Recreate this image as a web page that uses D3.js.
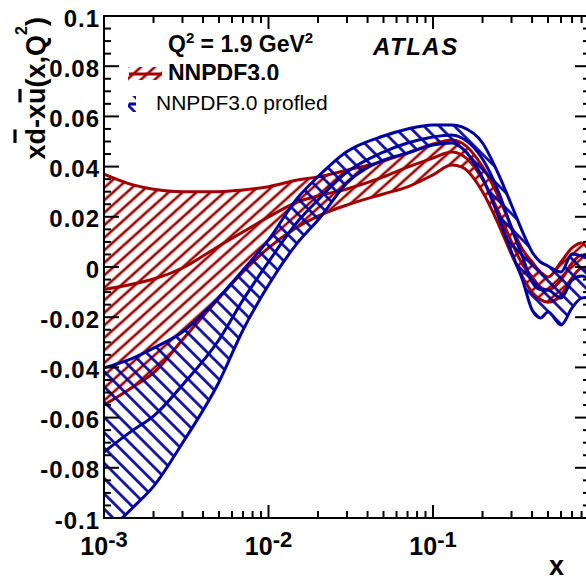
<!DOCTYPE html>
<html>
<head>
<meta charset="utf-8">
<script src="https://cdn.jsdelivr.net/npm/d3@7"></script>
<style>
  html, body { margin: 0; padding: 0; background: #fff; }
  svg { display: block; }
  text { font-family: "Liberation Sans", Arial, Helvetica, sans-serif; }
</style>
</head>
<body>
<svg id="chart" width="586" height="581"></svg>
<script>
// ---------------- data ----------------
const xValues = [0.001, 0.0015, 0.002, 0.003, 0.005, 0.007, 0.01, 0.015, 0.02, 0.03, 0.05, 0.07, 0.1, 0.13, 0.15, 0.2, 0.25, 0.3, 0.35, 0.4, 0.45, 0.5, 0.6, 0.7, 0.8, 0.9];

const redUpper   = [0.037, 0.0327, 0.031, 0.030, 0.030, 0.0307, 0.032, 0.0347, 0.0359, 0.0386, 0.0422, 0.0454, 0.049, 0.0506, 0.0494, 0.040, 0.028, 0.016, 0.007, 0.002, -0.002, -0.004, 0.002, 0.0076, 0.0096, 0.006];
const redCentral = [-0.009, -0.0068, -0.0048, -0.0004, 0.0084, 0.014, 0.0199, 0.0259, 0.0283, 0.0311, 0.0359, 0.0398, 0.0434, 0.0458, 0.0446, 0.035, 0.022, 0.010, 0.001, -0.004, -0.008, -0.0092, -0.0052, 0.0016, 0.0048, 0.002];
const redLower   = [-0.055, -0.0478, -0.0422, -0.029, -0.0124, -0.002, 0.0076, 0.0159, 0.0203, 0.0247, 0.0291, 0.0319, 0.0367, 0.0406, 0.0398, 0.030, 0.017, 0.005, -0.004, -0.010, -0.013, -0.014, -0.0112, -0.0044, -0.0004, -0.003];

const blueUpper   = [-0.0402, -0.0363, -0.0323, -0.0259, -0.012, -0.0012, 0.0108, 0.0275, 0.036, 0.046, 0.0522, 0.055, 0.0566, 0.0566, 0.0558, 0.0494, 0.037, 0.0247, 0.014, 0.006, 0.002, 0.0004, -0.002, 0.0052, 0.0044, 0.003];
const blueCentral = [-0.0737, -0.065, -0.0594, -0.047, -0.029, -0.0131, 0.002, 0.018, 0.0267, 0.0378, 0.0458, 0.0494, 0.0518, 0.0526, 0.0514, 0.043, 0.030, 0.0155, 0.004, -0.006, -0.009, -0.0092, -0.0124, -0.0052, -0.0036, -0.005];
const blueLower   = [-0.107, -0.0958, -0.0874, -0.0701, -0.0458, -0.0251, -0.0072, 0.0096, 0.0187, 0.0335, 0.0426, 0.0454, 0.0486, 0.0494, 0.0474, 0.0355, 0.020, 0.006, -0.0052, -0.0171, -0.0203, -0.0179, -0.0231, -0.0163, -0.0124, -0.012];

const yTickValues = [-0.1, -0.08, -0.06, -0.04, -0.02, 0, 0.02, 0.04, 0.06, 0.08, 0.1];
const yTickLabels = ["-0.1", "-0.08", "-0.06", "-0.04", "-0.02", "0", "0.02", "0.04", "0.06", "0.08", "0.1"];
const xTickValues = [0.001, 0.01, 0.1];
const xTickExponents = ["-3", "-2", "-1"];

const seriesNames = ["NNPDF3.0", "NNPDF3.0 profled"];
const energyLabel = "1.9 GeV";

// ---------------- layout ----------------
const L = 104, R = 590, T = 16, B = 518;
const RED = "#a00000", BLUE = "#0000a0";

const svg = d3.select("#chart");
const x = d3.scaleLog().domain([0.001, 0.9]).range([L, R]);
const y = d3.scaleLinear().domain([-0.1, 0.1]).range([B, T]);

const defs = svg.append("defs");
defs.append("clipPath").attr("id", "plotClip")
  .append("rect").attr("x", L).attr("y", T).attr("width", R - L).attr("height", B - T);

function hatch(id, color, angle, spacing) {
  const p = defs.append("pattern").attr("id", id)
    .attr("patternUnits", "userSpaceOnUse")
    .attr("width", 20).attr("height", spacing)
    .attr("patternTransform", `rotate(${angle})`);
  p.append("line").attr("x1", -2).attr("x2", 22)
    .attr("y1", spacing / 2).attr("y2", spacing / 2)
    .attr("stroke", color).attr("stroke-width", 2.6);
}
hatch("hatchRed", RED, -42, 9.3);
hatch("hatchBlue", BLUE, 45, 10.8);

const pts = arr => arr.map((v, i) => ({ x: xValues[i], y: v }));
const band = (lo, hi) => xValues.map((xv, i) => ({ x: xv, lo: lo[i], hi: hi[i] }));

const line = d3.line().x(d => x(d.x)).y(d => y(d.y)).curve(d3.curveMonotoneX);
const area = d3.area().x(d => x(d.x)).y0(d => y(d.lo)).y1(d => y(d.hi)).curve(d3.curveMonotoneX);

const plot = svg.append("g").attr("clip-path", "url(#plotClip)");

function drawBand(lo, mid, hi, color, pat) {
  plot.append("path").attr("d", area(band(lo, hi))).attr("fill", `url(#${pat})`).attr("stroke", "none");
  [hi, mid, lo].forEach(s => {
    plot.append("path").attr("d", line(pts(s)))
      .attr("fill", "none").attr("stroke", color).attr("stroke-width", 3)
      .attr("stroke-linejoin", "round");
  });
}
drawBand(redLower, redCentral, redUpper, RED, "hatchRed");
drawBand(blueLower, blueCentral, blueUpper, BLUE, "hatchBlue");

// ---------------- frame & ticks ----------------
const axes = svg.append("g").attr("stroke", "#000").attr("stroke-width", 2);
axes.append("rect").attr("x", L).attr("y", T).attr("width", R - L).attr("height", B - T).attr("fill", "none");

const yMinor = d3.range(-20, 21).map(k => k * 0.005);
yMinor.forEach(v => {
  const major = Math.abs(Math.round(v * 1000) % 20) === 0;
  const len = major ? 15 : 7;
  const py = y(v);
  axes.append("line").attr("x1", L).attr("x2", L + len).attr("y1", py).attr("y2", py);
  axes.append("line").attr("x1", R).attr("x2", R - len).attr("y1", py).attr("y2", py);
});

const xMinor = [];
[0.001, 0.01, 0.1].forEach(dec => { for (let k = 1; k <= 9; k++) { const v = dec * k; if (v <= 0.9 + 1e-9) xMinor.push({ v, major: k === 1 }); } });
xMinor.forEach(t => {
  const len = t.major ? 13 : 7;
  const px = x(t.v);
  axes.append("line").attr("x1", px).attr("x2", px).attr("y1", B).attr("y2", B - len);
  axes.append("line").attr("x1", px).attr("x2", px).attr("y1", T).attr("y2", T + len);
});

svg.append("g").selectAll("text").data(yTickValues).join("text")
  .attr("x", 100).attr("y", d => y(d) + 10.5)
  .attr("text-anchor", "end")
  .attr("font-size", 24).attr("font-weight", "bold").attr("letter-spacing", 1)
  .text((d, i) => yTickLabels[i]);

const xl = svg.append("g").selectAll("text").data(xTickValues).join("text")
  .attr("x", d => x(d)).attr("y", 555)
  .attr("text-anchor", "middle").attr("font-weight", "bold");
xl.append("tspan").attr("font-size", 25).text("10");
xl.append("tspan").attr("font-size", 22).attr("dy", -8).text((d, i) => xTickExponents[i]);

svg.append("text").attr("x", 564).attr("y", 575).attr("text-anchor", "end")
  .attr("font-size", 27).attr("font-weight", "bold").text("x");

const yt = svg.append("g").attr("transform", "translate(45,17) rotate(-90)");
const ytText = yt.append("text").attr("x", 0).attr("y", 0).attr("text-anchor", "end")
  .attr("font-size", 27).attr("font-weight", "bold");
ytText.append("tspan").text("xd-xu(x,Q");
ytText.append("tspan").attr("font-size", 16).attr("dy", -18).text("2");
ytText.append("tspan").attr("dy", 18).text(")");
[[1, -30], [4, -25]].forEach(([idx, off]) => {
  const e = ytText.node().getExtentOfChar(idx);
  yt.append("line").attr("x1", e.x + 1.5).attr("x2", e.x + e.width - 1.5)
    .attr("y1", off).attr("y2", off).attr("stroke", "#000").attr("stroke-width", 3.2);
});

// ---------------- legend ----------------
const leg = svg.append("g");
leg.append("rect").attr("x", 128).attr("y", 67).attr("width", 34).attr("height", 14).attr("fill", "url(#hatchRed)");
leg.append("line").attr("x1", 129).attr("x2", 162).attr("y1", 74).attr("y2", 74).attr("stroke", RED).attr("stroke-width", 3);
leg.append("rect").attr("x", 128).attr("y", 96).attr("width", 34).attr("height", 16).attr("fill", "url(#hatchBlue)");
leg.append("line").attr("x1", 129).attr("x2", 162).attr("y1", 104).attr("y2", 104).attr("stroke", BLUE).attr("stroke-width", 3);
leg.append("text").attr("x", 168).attr("y", 81).attr("font-size", 23).attr("font-weight", "bold").text(seriesNames[0]);
leg.append("rect").attr("x", 136).attr("y", 80).attr("width", 210).attr("height", 38).attr("fill", "#fff");
leg.append("text").attr("x", 156).attr("y", 110).attr("font-size", 21).text(seriesNames[1]);

const q = leg.append("text").attr("x", 168).attr("y", 52).attr("font-size", 23).attr("font-weight", "bold");
q.append("tspan").text("Q");
q.append("tspan").attr("font-size", 15).attr("dy", -9).text("2");
q.append("tspan").attr("dy", 9).text(" = " + energyLabel);
q.append("tspan").attr("font-size", 15).attr("dy", -9).text("2");

svg.append("text").attr("x", 373).attr("y", 55).attr("font-size", 24)
  .attr("font-weight", "bold").attr("font-style", "italic").attr("letter-spacing", 1.5).text("ATLAS");
</script>
</body>
</html>
